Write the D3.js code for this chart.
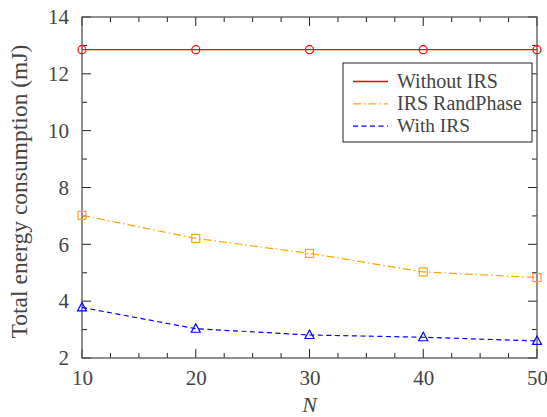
<!DOCTYPE html>
<html><head><meta charset="utf-8">
<script src="https://cdn.jsdelivr.net/npm/d3@7"></script>
</head><body style="margin:0;background:#fff"><svg id="c" width="547" height="417" font-family="Liberation Serif"></svg>
<script>
const xValues = [10, 20, 30, 40, 50];
const withoutIRS = [12.85, 12.85, 12.85, 12.85, 12.85];
const randPhase = [7.02, 6.21, 5.68, 5.03, 4.83];
const withIRS = [3.78, 3.03, 2.81, 2.73, 2.6];
const xTicks = [10, 20, 30, 40, 50];
const yTicks = [2, 4, 6, 8, 10, 12, 14];
const seriesNames = ["Without IRS", "IRS RandPhase", "With IRS"];

const FONT = "Liberation Serif";
const TXT = "#444";
const svg = d3.select("#c");
const L = 82, R = 537, T = 17, B = 358;
const x = d3.scaleLinear().domain([10, 50]).range([L, R]);
const y = d3.scaleLinear().domain([2, 14]).range([B, T]);

function setFont(sel, size, italic) {
  sel.each(function() {
    this.setAttribute("font-family", FONT);
    this.setAttribute("font-size", size);
    this.style.setProperty("font-family", FONT, "important");
    this.style.setProperty("font-size", size + "px", "important");
    if (italic) this.style.setProperty("font-style", "italic", "important");
  });
}
function fit(sel, w, size) {
  const len = sel.node().getComputedTextLength();
  if (len > 0) setFont(sel, +(size * w / len).toFixed(2));
}

const g = svg.append("g");
const xMinor = d3.range(10, 50.01, 2.5);
const yMinor = d3.range(2, 14.01, 1);
function tickLen(v, majors){ return majors.includes(v) ? 9 : 5; }
xMinor.forEach(v => {
  const len = tickLen(v, xTicks);
  g.append("line").attr("x1", x(v)).attr("x2", x(v)).attr("y1", B).attr("y2", B - len).attr("stroke", "#222").attr("stroke-width", 1);
  g.append("line").attr("x1", x(v)).attr("x2", x(v)).attr("y1", T).attr("y2", T + len).attr("stroke", "#222").attr("stroke-width", 1);
});
yMinor.forEach(v => {
  const len = tickLen(v, yTicks);
  g.append("line").attr("x1", L).attr("x2", L + len).attr("y1", y(v)).attr("y2", y(v)).attr("stroke", "#222").attr("stroke-width", 1);
  g.append("line").attr("x1", R).attr("x2", R - len).attr("y1", y(v)).attr("y2", y(v)).attr("stroke", "#222").attr("stroke-width", 1);
});
g.append("rect").attr("x", L).attr("y", T).attr("width", R - L).attr("height", B - T)
  .attr("fill", "none").attr("stroke", "#555").attr("stroke-width", 1.3);

const xAxis = d3.axisBottom(x).tickValues(xTicks).tickSize(0).tickPadding(12);
const xa = svg.append("g").attr("transform", `translate(0,${B})`).call(xAxis).attr("font-family", FONT);
xa.select(".domain").remove();
xa.selectAll("text").attr("fill", TXT).call(setFont, 21);
const yAxis = d3.axisLeft(y).tickValues(yTicks).tickSize(0).tickPadding(13);
const ya = svg.append("g").attr("transform", `translate(${L},0)`).call(yAxis).attr("font-family", FONT);
ya.select(".domain").remove();
ya.selectAll("text").attr("fill", TXT).call(setFont, 21);

svg.append("text").attr("x", (L + R) / 2).attr("y", 412).attr("text-anchor", "middle")
  .attr("fill", TXT).text("N").call(setFont, 22, true);
const yl = svg.append("text").attr("transform", `translate(27,${(T + B) / 2 + 4}) rotate(-90)`).attr("text-anchor", "middle")
  .attr("fill", TXT).text("Total energy consumption (mJ)").call(setFont, 20);
fit(yl, 294, 20);

const line = d3.line().x((d, i) => x(xValues[i])).y(d => y(d));
const series = [
  {vals: withoutIRS, color: "#ff0000", dash: "none", marker: "circle"},
  {vals: randPhase, color: "#ffa500", dash: "8,3,1.5,3", marker: "square"},
  {vals: withIRS, color: "#0000ff", dash: "5,3.5", marker: "triangle"}
];
series.forEach(s => {
  svg.append("path").datum(s.vals).attr("d", line).attr("fill", "none")
    .attr("stroke", s.color).attr("stroke-width", 1.2).attr("stroke-dasharray", s.dash);
  s.vals.forEach((v, i) => {
    const cx = x(xValues[i]), cy = y(v);
    if (s.marker === "circle") {
      svg.append("circle").attr("cx", cx).attr("cy", cy).attr("r", 4).attr("fill", "none").attr("stroke", s.color).attr("stroke-width", 1.2);
    } else if (s.marker === "square") {
      svg.append("rect").attr("x", cx - 4).attr("y", cy - 4).attr("width", 8).attr("height", 8).attr("fill", "none").attr("stroke", s.color).attr("stroke-width", 1.2);
    } else {
      svg.append("path").attr("d", `M${cx},${cy - 5}L${cx + 4.5},${cy + 3.5}L${cx - 4.5},${cy + 3.5}Z`).attr("fill", "none").attr("stroke", s.color).attr("stroke-width", 1.2);
    }
  });
});

const lg = svg.append("g");
lg.append("rect").attr("x", 343).attr("y", 63).attr("width", 189).attr("height", 79)
  .attr("fill", "#fff").attr("stroke", "#222").attr("stroke-width", 1);
const legW = [101, 125, 73];
series.forEach((s, i) => {
  const ly = 81.5 + i * 22.3;
  lg.append("path").attr("d", `M353,${ly}H388`).attr("fill", "none")
    .attr("stroke", s.color).attr("stroke-width", 1.3).attr("stroke-dasharray", s.dash);
  const t = lg.append("text").attr("x", 397).attr("y", ly + 6)
    .attr("fill", TXT).text(seriesNames[i]).call(setFont, 18);
  fit(t, legW[i], 18);
});
</script></body></html>
